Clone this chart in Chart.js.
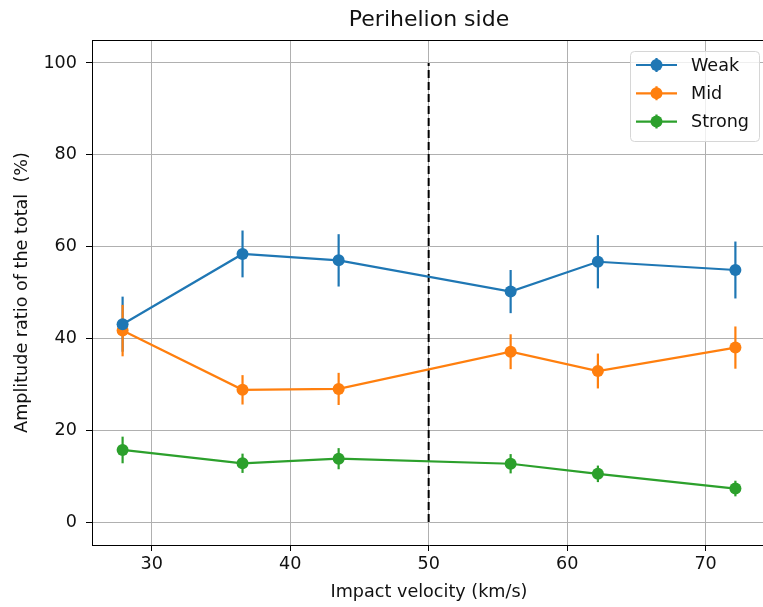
<!DOCTYPE html>
<html>
<head>
<meta charset="utf-8">
<title>Perihelion side</title>
<script src="https://cdn.jsdelivr.net/npm/chart.js@4.4.1/dist/chart.umd.min.js"></script>
<style>
  html, body { margin: 0; padding: 0; background: #fff; overflow: hidden; }
  #chart { display: block; }
</style>
</head>
<body>
<canvas id="chart" width="772" height="607"></canvas>
<script>
// values
const velocity = [27.9, 36.56, 43.5, 55.92, 62.22, 72.15];
const weak = [43.1, 58.4, 57.0, 50.2, 56.7, 54.9];
const weakErr = [6.0, 5.1, 5.7, 4.7, 5.8, 6.2];
const mid = [41.7, 28.8, 29.0, 37.1, 32.9, 38.0];
const midErr = [5.6, 3.2, 3.5, 3.8, 3.8, 4.6];
const strong = [15.7, 12.8, 13.8, 12.7, 10.5, 7.3];
const strongErr = [2.9, 2.1, 2.3, 2.1, 1.8, 1.7];
const splitX = [50, 50];
const splitY = [0, 100];
const xTicks = [30, 40, 50, 60, 70];
const yTicks = [0, 20, 40, 60, 80, 100];

const FONT = "'DejaVu Sans', sans-serif";
const FS = 17.6;
const series = [
  { label: 'Weak', values: weak, errors: weakErr, color: '#1f77b4' },
  { label: 'Mid', values: mid, errors: midErr, color: '#ff7f0e' },
  { label: 'Strong', values: strong, errors: strongErr, color: '#2ca02c' },
];

const toPoints = (xs, ys) => xs.map((x, i) => ({ x: x, y: ys[i] }));

const datasets = series.map(s => ({
  label: s.label,
  data: toPoints(velocity, s.values),
  errors: s.errors,
  borderColor: s.color,
  backgroundColor: s.color,
  borderWidth: 2.2,
  pointRadius: 6,
  pointHoverRadius: 6,
  pointBorderWidth: 0,
  tension: 0,
}));
datasets.push({
  label: 'split',
  data: toPoints(splitX, splitY),
  borderColor: '#000',
  borderWidth: 2,
  borderDash: [8, 4],
  pointRadius: 0,
});

// matplotlib-like errorbars, title, frame and legend
const extras = {
  id: 'extras',
  beforeDatasetsDraw(chart) {
    const { ctx, scales: { x, y } } = chart;
    ctx.save();
    chart.data.datasets.forEach(ds => {
      if (!ds.errors) return;
      ctx.strokeStyle = ds.borderColor;
      ctx.lineWidth = 2.2;
      ds.data.forEach((p, i) => {
        const px = x.getPixelForValue(p.x);
        ctx.beginPath();
        ctx.moveTo(px, y.getPixelForValue(p.y - ds.errors[i]));
        ctx.lineTo(px, y.getPixelForValue(p.y + ds.errors[i]));
        ctx.stroke();
      });
    });
    ctx.restore();
  },
  afterDraw(chart) {
    const { ctx, chartArea: a } = chart;
    ctx.save();
    // frame top + right
    ctx.strokeStyle = '#000';
    ctx.lineWidth = 1;
    ctx.beginPath();
    ctx.moveTo(a.left, a.top + 0.5);
    ctx.lineTo(a.right, a.top + 0.5);
    ctx.lineTo(a.right, a.bottom);
    ctx.stroke();

    // title
    ctx.fillStyle = '#111';
    ctx.font = '22px ' + FONT;
    ctx.textAlign = 'center';
    ctx.textBaseline = 'middle';
    ctx.fillText('Perihelion side', (a.left + a.right) / 2, 20);

    // legend
    const bx = 630, by = 51, bw = 129, bh = 90;
    ctx.fillStyle = 'rgba(255,255,255,0.8)';
    ctx.strokeStyle = '#d6d6d6';
    ctx.beginPath();
    ctx.roundRect(bx + 0.5, by + 0.5, bw, bh, 4);
    ctx.fill();
    ctx.stroke();
    ctx.font = FS + 'px ' + FONT;
    ctx.textAlign = 'left';
    series.forEach((s, i) => {
      const ry = 65 + i * 28.3;
      ctx.strokeStyle = s.color;
      ctx.lineWidth = 2.2;
      ctx.beginPath();
      ctx.moveTo(636, ry);
      ctx.lineTo(677, ry);
      ctx.moveTo(656.5, ry - 7);
      ctx.lineTo(656.5, ry + 7);
      ctx.stroke();
      ctx.fillStyle = s.color;
      ctx.beginPath();
      ctx.arc(656.5, ry, 6, 0, Math.PI * 2);
      ctx.fill();
      ctx.fillStyle = '#111';
      ctx.fillText(s.label, 691, ry + 1);
    });
    ctx.restore();
  }
};

new Chart(document.getElementById('chart'), {
  type: 'line',
  data: { datasets: datasets },
  options: {
    responsive: false,
    animation: false,
    events: [],
    layout: { padding: { top: 40, left: 0, right: 2, bottom: 0 } },
    plugins: {
      legend: { display: false },
      title: { display: false },
      tooltip: { enabled: false },
    },
    scales: {
      x: {
        type: 'linear',
        min: 25.69,
        max: 74.36,
        afterFit: s => { s.height = 62; },
        afterBuildTicks: s => { s.ticks = xTicks.map(v => ({ value: v })); },
        grid: { color: '#b0b0b0', lineWidth: 1, tickLength: 6, tickColor: '#000' },
        border: { color: '#000', width: 1 },
        ticks: { color: '#111', padding: 3, maxRotation: 0, font: { family: FONT, size: FS } },
        title: {
          display: true,
          text: 'Impact velocity (km/s)',
          color: '#111',
          font: { family: FONT, size: FS },
          padding: { top: 0, bottom: 4 },
        },
      },
      y: {
        min: -5,
        max: 105,
        afterFit: s => { s.width = 92; },
        afterBuildTicks: s => { s.ticks = yTicks.map(v => ({ value: v })); },
        grid: { color: '#b0b0b0', lineWidth: 1, tickLength: 6, tickColor: '#000' },
        border: { color: '#000', width: 1 },
        ticks: { color: '#111', padding: 9, font: { family: FONT, size: FS } },
        title: {
          display: true,
          text: 'Amplitude ratio of the total  (%)',
          color: '#111',
          font: { family: FONT, size: FS },
          padding: { top: 12, bottom: 0 },
        },
      },
    },
  },
  plugins: [extras],
});
</script>
</body>
</html>
